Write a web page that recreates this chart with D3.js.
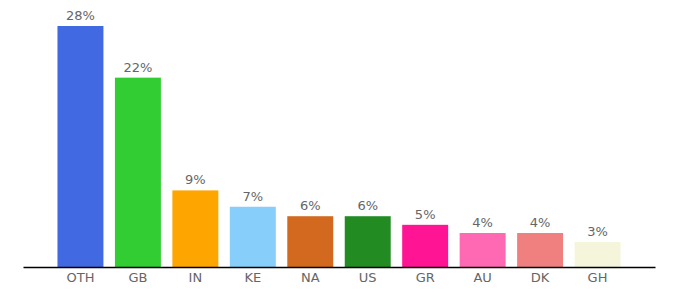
<!DOCTYPE html>
<html>
<head>
<meta charset="utf-8">
<script src="https://cdn.jsdelivr.net/npm/d3@7"></script>
<style>
	body { margin: 0; background: #fff; }
	text { font-family: "DejaVu Sans", sans-serif; }
</style>
</head>
<body>
<svg id="chart" width="680" height="300"></svg>
<script>
// countries and their share (percent)
var countries = ["OTH", "GB", "IN", "KE", "NA", "US", "GR", "AU", "DK", "GH"];
var shares = [28.0, 22.0, 8.9, 7.0, 5.9, 5.9, 4.9, 3.95, 3.95, 2.9];
var colors = ["#4169e1", "#32cd32", "#ffa500", "#87cefa", "#d2691e", "#228b22", "#ff1493", "#ff69b4", "#f08080", "#f5f5dc"];

var svg = d3.select("#chart");
var baseline = 267;

var x = d3.scaleBand()
	.domain(countries)
	.range([23, 655])
	.paddingInner(0.2)
	.paddingOuter(0.6);

var y = d3.scaleLinear()
	.domain([0, 28])
	.range([baseline, 26]);

var rows = countries.map(function(c, i) {
	return { name: c, value: shares[i], color: colors[i] };
});

svg.selectAll("rect.bar")
	.data(rows)
	.enter()
	.append("rect")
	.attr("class", "bar")
	.attr("x", function(d) { return x(d.name); })
	.attr("y", function(d) { return y(d.value); })
	.attr("width", x.bandwidth())
	.attr("height", function(d) { return baseline - y(d.value); })
	.attr("fill", function(d) { return d.color; });

svg.selectAll("text.value")
	.data(rows)
	.enter()
	.append("text")
	.attr("class", "value")
	.attr("x", function(d) { return x(d.name) + x.bandwidth() / 2; })
	.attr("y", function(d) { return y(d.value) - 6; })
	.attr("text-anchor", "middle")
	.attr("font-size", "13px")
	.attr("fill", "#666")
	.text(function(d) { return Math.round(d.value) + "%"; });

var axis = svg.append("g")
	.attr("transform", "translate(0," + baseline + ")")
	.call(d3.axisBottom(x).tickSize(0).tickPadding(6));
axis.select(".domain")
	.attr("stroke", "#000")
	.attr("stroke-width", 1.3);
axis.selectAll("text")
	.attr("font-size", "13px")
	.attr("fill", "#666")
	.style("font-family", "'DejaVu Sans', sans-serif");
</script>
</body>
</html>
